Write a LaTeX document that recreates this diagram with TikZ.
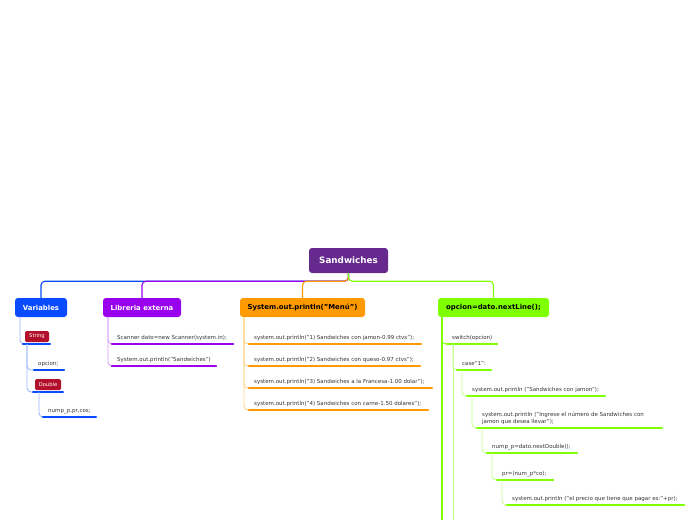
\documentclass[tikz,border=0pt]{standalone}
\usepackage{fontspec}
\setmainfont{DejaVu Sans}
\definecolor{rootc}{HTML}{662A8F}
\definecolor{vblue}{HTML}{0A4BFF}
\definecolor{lblue}{HTML}{9DB5FF}
\definecolor{vpurp}{HTML}{9900EE}
\definecolor{lpurp}{HTML}{D49CFA}
\definecolor{vorange}{HTML}{FF9A00}
\definecolor{lorange}{HTML}{FFD48A}
\definecolor{vgreen}{HTML}{80FF00}
\definecolor{lgreen}{HTML}{C4FF8C}
\definecolor{vred}{HTML}{B3112B}
\definecolor{tgray}{HTML}{333333}
\tikzset{
  head/.style={draw=none, fill=#1, rounded corners=3pt, minimum height=19pt, inner sep=0pt,
     font=\fontsize{6.9}{8}\selectfont\bfseries},
  redbox/.style={fill=vred, rounded corners=1.5pt, minimum height=11pt, inner sep=0pt,
     text=white, font=\fontsize{5.2}{6}\selectfont},
  leaf/.style={anchor=base west, inner sep=0pt, text=tgray, font=\fontsize{5.5}{7}\selectfont},
  ul/.style={draw=#1, line width=2.6pt, line cap=round},
  conn/.style={draw=#1, line width=1.1pt, rounded corners=4pt},
  sconn/.style={draw=#1, line width=0.9pt, rounded corners=4pt},
}
\begin{document}
\begin{tikzpicture}[x=1pt,y=-1pt]
\useasboundingbox (0,0) rectangle (696,520);
% root and headings
\node[head=rootc, text=white, minimum width=79pt, minimum height=25pt, font=\fontsize{8.8}{10}\selectfont\bfseries] (root) at (348.5,260.5) {Sandwiches};
\node[head=vblue, text=white, minimum width=52pt] (var) at (41,307.5) {Variables};
\node[head=vpurp, text=white, minimum width=78pt] (lib) at (142,307.5) {Libreria externa};
\node[head=vorange, text=black, minimum width=125pt] (menu) at (302.5,307.5) {System.out.println("Menú")};
\node[head=vgreen, text=black, minimum width=111pt] (opc) at (493.5,307.5) {opcion=dato.nextLine();};
% main connectors
\draw[conn=vblue] (root.south) -- ++(0,8) -| (var.north);
\draw[conn=vpurp] (root.south) -- ++(0,8) -| (lib.north);
\draw[conn=vorange] (root.south) -- ++(0,8) -| (menu.north);
\draw[conn=vgreen] (root.south) -- ++(0,8) -| (opc.north);

% ---------- Variables ----------
\coordinate (varc) at (20,317);
\node[redbox, minimum width=24pt] (str) at (37,336.5) {String};
\coordinate (strA) at (23,344); \coordinate (strB) at (50,344);
\draw[sconn=lblue] (varc) |- (strA);
\draw[ul=vblue] (strA) -- (strB);
\coordinate (strc) at (27,344);
\node[leaf] (opv) at (38,365.5) {opcion;};
\coordinate (opvA) at (34,370); \coordinate (opvB) at (64,370);
\node[redbox, minimum width=26pt] (dbl) at (48,384.5) {Double};
\coordinate (dblA) at (33,392); \coordinate (dblB) at (63,392);
\draw[sconn=lblue] (strc) |- (opvA);
\draw[sconn=lblue] (strc) |- (dblA);
\draw[ul=vblue] (opvA) -- (opvB);
\draw[ul=vblue] (dblA) -- (dblB);
\coordinate (dblc) at (39,392);
\node[leaf] (nump) at (48,412.5) {nump\_p,pr,cos;};
\coordinate (numpA) at (43,417); \coordinate (numpB) at (96,417);
\draw[sconn=lblue] (dblc) |- (numpA);
\draw[ul=vblue] (numpA) -- (numpB);

% ---------- Libreria ----------
\coordinate (libc) at (108,317);
\node[leaf] (scan) at (117,339.5) {Scanner dato=new Scanner(system.in);};
\coordinate (scanA) at (112,344); \coordinate (scanB) at (233,344);
\node[leaf] (sysw) at (117,361.5) {System.out.println("Sandwiches")};
\coordinate (syswA) at (112,366); \coordinate (syswB) at (216,366);
\draw[sconn=lpurp] (libc) |- (scanA);
\draw[sconn=lpurp] (libc) |- (syswA);
\draw[ul=vpurp] (scanA) -- (scanB);
\draw[ul=vpurp] (syswA) -- (syswB);

% ---------- Menu ----------
\coordinate (menc) at (244,317);
\node[leaf] (m1) at (254,339.5) {system.out.println("1) Sandwiches con jamon-0.99 ctvs");};
\coordinate (m1A) at (249,344); \coordinate (m1B) at (421,344);
\node[leaf] (m2) at (254,361.5) {system.out.println("2) Sandwiches con queso-0.97 ctvs");};
\coordinate (m2A) at (249,366); \coordinate (m2B) at (420,366);
\node[leaf] (m3) at (254,383.5) {system.out.println("3) Sandwiches a la Francesa-1.00 dolar");};
\coordinate (m3A) at (249,388); \coordinate (m3B) at (432,388);
\node[leaf] (m4) at (254,405.5) {system.out.println("4) Sandwiches con carne-1.50 dolares");};
\coordinate (m4A) at (249,410); \coordinate (m4B) at (428,410);
\foreach \n in {m1,m2,m3,m4}{
  \draw[sconn=lorange] (menc) |- (\n A);
  \draw[ul=vorange] (\n A) -- (\n B);
}

% ---------- opcion ----------
\coordinate (opcc) at (442,317);
\coordinate (opcEnd) at (442,520);
\draw[line width=1.1pt, draw=vgreen] (opcc) -- (opcEnd);
\node[leaf] (sw) at (452,339.5) {switch(opcion)};
\coordinate (swA) at (447,344); \coordinate (swB) at (497,344);
\draw[sconn=vgreen] (opcc) |- (swA);
\draw[ul=vgreen] (swA) -- (swB);
\coordinate (swc) at (453,344);
\coordinate (swEnd) at (453,520);
\draw[line width=0.9pt, draw=lgreen] (swc) -- (swEnd);
\node[leaf] (case) at (462,365.5) {case"1":};
\coordinate (caseA) at (457,370); \coordinate (caseB) at (491,370);
\draw[sconn=lgreen] (swc) |- (caseA);
\draw[ul=vgreen] (caseA) -- (caseB);
\coordinate (casec) at (462,370);
\node[leaf] (jam) at (472,391.5) {system.out.println ("Sandwiches con jamon");};
\coordinate (jamA) at (467,396); \coordinate (jamB) at (605,396);
\draw[sconn=lgreen] (casec) |- (jamA);
\draw[ul=vgreen] (jamA) -- (jamB);
\coordinate (jamc) at (472,396);
\node[leaf, align=left] (ing) at (482,423.5) {system.out.println ("Ingrese el número de Sandwiches con\\jamon que desea llevar");};
\coordinate (ingA) at (477,428); \coordinate (ingB) at (662,428);
\draw[sconn=lgreen] (jamc) |- (ingA);
\draw[ul=vgreen] (ingA) -- (ingB);
\coordinate (ingc) at (482,428);
\node[leaf] (nd) at (492,448.5) {nump\_p=dato.nextDouble();};
\coordinate (ndA) at (487,453); \coordinate (ndB) at (577,453);
\draw[sconn=lgreen] (ingc) |- (ndA);
\draw[ul=vgreen] (ndA) -- (ndB);
\coordinate (ndc) at (492,453);
\node[leaf] (pr) at (502,475.5) {pr=(num\_p*co);};
\coordinate (prA) at (497,480); \coordinate (prB) at (553,480);
\draw[sconn=lgreen] (ndc) |- (prA);
\draw[ul=vgreen] (prA) -- (prB);
\coordinate (prc) at (502,480);
\node[leaf] (prec) at (512,500.5) {system.out.println ("el precio que tiene que pagar es:"+pr);};
\coordinate (precA) at (507,505); \coordinate (precB) at (684,505);
\draw[sconn=lgreen] (prc) |- (precA);
\draw[ul=vgreen] (precA) -- (precB);
\end{tikzpicture}
\end{document}
